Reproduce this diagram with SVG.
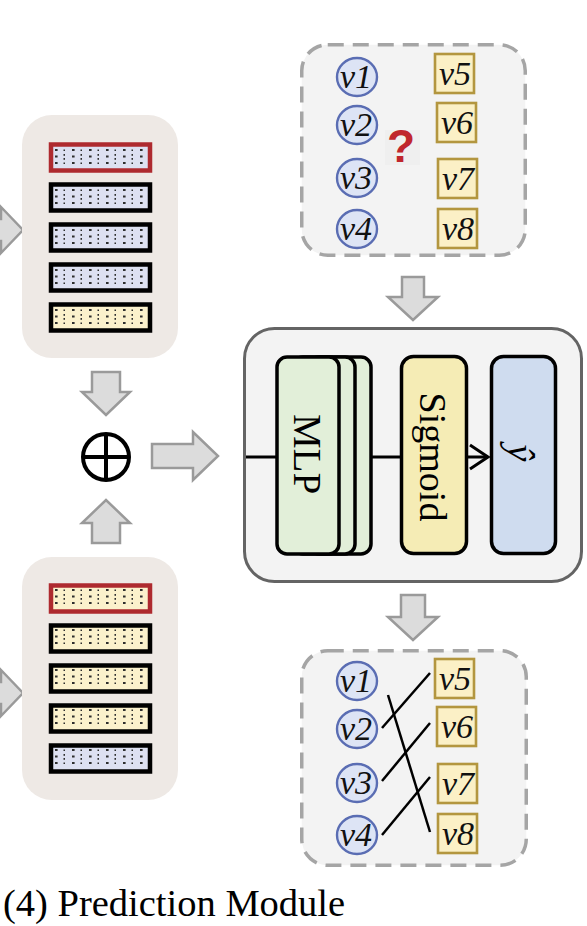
<svg xmlns="http://www.w3.org/2000/svg" width="587" height="926" viewBox="0 0 587 926">
<style>
.serif{font-family:"Liberation Serif","Times New Roman",serif;fill:#000}
.vl{font-family:"Liberation Serif","Times New Roman",serif;font-style:italic;font-size:34px;text-anchor:middle;fill:#111}
.dash{fill:#f3f3f3;stroke:#a5a5a5;stroke-width:3.5;stroke-dasharray:16 9}
.circ{fill:#dde4f5;stroke:#5a6db3;stroke-width:2.4}
.sq{fill:#fbf0c6;stroke:#b3963f;stroke-width:2.6}
.garrow{fill:#dcdcdc;stroke:#9a9a9a;stroke-width:2.5;stroke-linejoin:miter}
.panel{fill:#eee9e5}
.barB{fill:url(#dotsB);stroke:#000;stroke-width:4.5}
.barY{fill:url(#dotsY);stroke:#000;stroke-width:4.5}
.red{stroke:#ae2a2f}
.blk{fill:none;stroke:#000;stroke-width:3}
.mod{stroke:#000;stroke-width:3.5}
</style>
<defs>
<g id="dotmarks" fill="#2e2e2e">
<rect x="3" y="2" width="2.6" height="2"/>
<rect x="3" y="8.5" width="2.6" height="2"/>
<rect x="3" y="15" width="2.6" height="2"/>
<rect x="11.5" y="2.5" width="1.5" height="1.5"/>
<rect x="11.5" y="7" width="1.5" height="1.8"/>
<rect x="11.5" y="11" width="1.5" height="1.8"/>
<rect x="11.5" y="15.5" width="1.5" height="1.5"/>
</g>
<pattern id="dotsB" patternUnits="userSpaceOnUse" x="52" y="147" width="17" height="40">
<rect width="17" height="40" fill="#dde0f1"/>
<use href="#dotmarks"/>
</pattern>
<pattern id="dotsY" patternUnits="userSpaceOnUse" x="52" y="147" width="17" height="40">
<rect width="17" height="40" fill="#fbf1cc"/>
<use href="#dotmarks"/>
</pattern>
</defs>

<g id="arrows">
<polygon class="garrow" points="-20,219 1,219 1,207 23,230 1,253 1,241 -20,241"/>
<polygon class="garrow" points="-20,682 1,682 1,670 23,693 1,716 1,704 -20,704"/>
<polygon class="garrow" points="92,372 120,372 120,392 130,392 106,415 82,392 92,392"/>
<polygon class="garrow" points="92,543 120,543 120,523 130,523 106,500 82,523 92,523"/>
<polygon class="garrow" points="152,444 193,444 193,432 218,456 193,480 193,468 152,468"/>
<polygon class="garrow" points="402,277 424,277 424,297 438,297 413,320 388,297 402,297"/>
<polygon class="garrow" points="401,595 425,595 425,617 438,617 413,640 388,617 401,617"/>
</g>

<g id="user-panel">
<rect class="panel" x="22" y="115" width="156" height="243" rx="30"/>
<rect class="barB red" x="51" y="144.5" width="99" height="26"/>
<rect class="barB" x="51" y="184.5" width="99" height="26"/>
<rect class="barB" x="51" y="224.5" width="99" height="26"/>
<rect class="barB" x="51" y="264.5" width="99" height="26"/>
<rect class="barY" x="51" y="304.5" width="99" height="26"/>
</g>

<g id="item-panel">
<rect class="panel" x="22" y="557" width="156" height="243" rx="30"/>
<rect class="barY red" x="51" y="585.5" width="99" height="26"/>
<rect class="barY" x="51" y="625.5" width="99" height="26"/>
<rect class="barY" x="51" y="665.5" width="99" height="26"/>
<rect class="barY" x="51" y="705.5" width="99" height="26"/>
<rect class="barB" x="51" y="745.5" width="99" height="26"/>
</g>

<g id="concat">
<circle cx="106" cy="457" r="23" fill="none" stroke="#000" stroke-width="4"/>
<line x1="83" y1="457" x2="129" y2="457" stroke="#000" stroke-width="4"/>
<line x1="106" y1="434" x2="106" y2="480" stroke="#000" stroke-width="4"/>
</g>

<g id="query">
<rect class="dash" x="301.75" y="44.75" width="223.5" height="210.5" rx="26"/>
<ellipse class="circ" cx="357" cy="77" rx="20" ry="19"/>
<ellipse class="circ" cx="357" cy="125" rx="20" ry="19"/>
<ellipse class="circ" cx="357" cy="178" rx="20" ry="19"/>
<ellipse class="circ" cx="357" cy="229" rx="20" ry="19"/>
<text class="vl" x="356" y="88">v1</text>
<text class="vl" x="356" y="136">v2</text>
<text class="vl" x="356" y="189">v3</text>
<text class="vl" x="356" y="240">v4</text>
<rect class="sq" x="435" y="54" width="39" height="39"/>
<rect class="sq" x="437" y="103" width="39" height="39"/>
<rect class="sq" x="438" y="159" width="39" height="39"/>
<rect class="sq" x="438" y="209" width="39" height="39"/>
<text class="vl" x="455" y="85">v5</text>
<text class="vl" x="457" y="134">v6</text>
<text class="vl" x="458" y="190">v7</text>
<text class="vl" x="458" y="240">v8</text>
<rect x="385" y="130" width="35" height="35" fill="#efefef"/>
<text x="401" y="162" font-family="Liberation Sans, Arial, sans-serif" font-weight="bold" font-size="46" text-anchor="middle" fill="#c0262d">?</text>
</g>

<g id="predictor">
<rect x="244.5" y="328.5" width="337" height="253" rx="30" fill="#f3f3f3" stroke="#646464" stroke-width="3"/>
<rect class="mod" x="309" y="357" width="62" height="197" rx="10" fill="#e2efd9"/>
<rect class="mod" x="293" y="357" width="62" height="197" rx="10" fill="#e2efd9"/>
<rect class="mod" x="277" y="357" width="62" height="197" rx="10" fill="#e2efd9"/>
<rect class="mod" x="401.5" y="356.5" width="65" height="197" rx="12" fill="#f5ecb5"/>
<rect class="mod" x="491.5" y="356.5" width="64" height="197" rx="12" fill="#cfdcef"/>
<text class="serif" font-size="39" text-anchor="middle" transform="translate(294,454) rotate(90)">MLP</text>
<text class="serif" font-size="38" text-anchor="middle" transform="translate(420,457) rotate(90)">Sigmoid</text>
<text class="serif" font-size="38" font-style="italic" text-anchor="middle" transform="translate(508,453) rotate(90)">ŷ</text>
</g>

<g id="connectors">
<line class="blk" x1="246" y1="457" x2="277" y2="457"/>
<line class="blk" x1="371" y1="457" x2="401" y2="457"/>
<line class="blk" x1="466" y1="457" x2="488" y2="457"/>
<polyline class="blk" points="470,445 488,457 470,469"/>
</g>

<g id="result">
<rect class="dash" x="301.75" y="650.75" width="224.5" height="214.5" rx="26"/>
<ellipse class="circ" cx="357" cy="681" rx="20" ry="19"/>
<ellipse class="circ" cx="357" cy="729" rx="20" ry="19"/>
<ellipse class="circ" cx="357" cy="783" rx="20" ry="19"/>
<ellipse class="circ" cx="357" cy="835" rx="20" ry="19"/>
<text class="vl" x="356" y="692">v1</text>
<text class="vl" x="356" y="740">v2</text>
<text class="vl" x="356" y="794">v3</text>
<text class="vl" x="356" y="846">v4</text>
<rect class="sq" x="435" y="659" width="39" height="39"/>
<rect class="sq" x="437" y="707" width="39" height="39"/>
<rect class="sq" x="438" y="764" width="39" height="39"/>
<rect class="sq" x="438" y="814" width="39" height="39"/>
<text class="vl" x="455" y="690">v5</text>
<text class="vl" x="457" y="738">v6</text>
<text class="vl" x="458" y="795">v7</text>
<text class="vl" x="458" y="845">v8</text>
<g stroke="#000" stroke-width="2.5">
<line x1="388" y1="695" x2="430" y2="832"/>
<line x1="382" y1="728" x2="430" y2="673"/>
<line x1="382" y1="781" x2="430" y2="723"/>
<line x1="382" y1="835" x2="430" y2="777"/>
</g>
</g>

<text id="caption" class="serif" x="3" y="916" font-size="38.5">(4) Prediction Module</text>
</svg>
